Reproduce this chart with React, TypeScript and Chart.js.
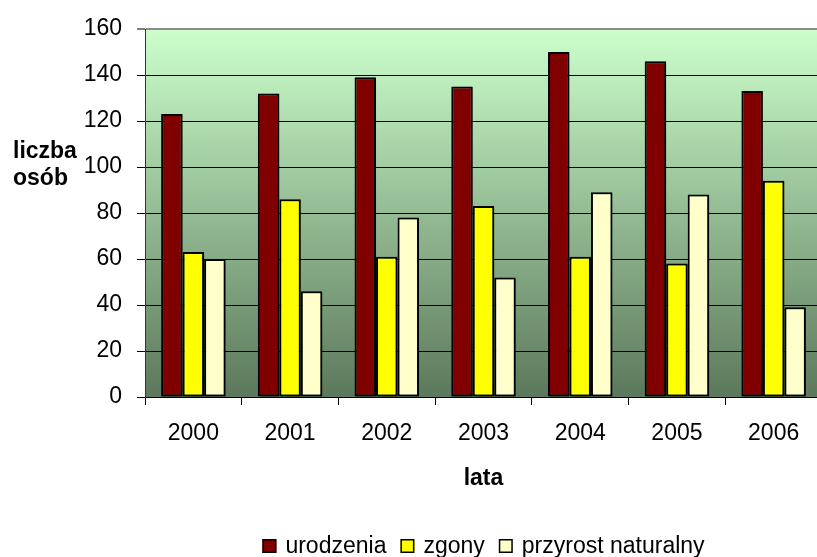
import { useEffect, useRef } from "react";
import { Chart, registerables } from "chart.js";

Chart.register(...registerables);

const categories = ["2000", "2001", "2002", "2003", "2004", "2005", "2006"];
const urodzenia = [123, 132, 139, 135, 150, 146, 133];
const zgony = [63, 86, 61, 83, 61, 58, 94];
const przyrost = [60, 46, 78, 52, 89, 88, 39];
const seriesNames = ["urodzenia", "zgony", "przyrost naturalny"];
const seriesColors = ["#800000", "#FFFF00", "#FFFFCC"];
const yMin = 0;
const yMax = 160;
const yStep = 20;
const yTitleLines = ["liczba", "osób"];
const xTitle = "lata";

const FONT = "'Liberation Sans', Arial, sans-serif";
const FS = 23;

const bgPlugin = {
  id: "plotBg",
  beforeDraw(chart: any) {
    const { ctx, chartArea } = chart;
    const { left, top, right, bottom } = chartArea;
    const g = ctx.createLinearGradient(0, top, 0, bottom);
    g.addColorStop(0, "#CCFFCC");
    g.addColorStop(1, "#5C785C");
    ctx.save();
    ctx.fillStyle = g;
    ctx.fillRect(left, top, right - left, bottom - top);
    ctx.restore();
  },
  afterDraw(chart: any) {
    const { ctx, chartArea } = chart;
    ctx.save();
    ctx.fillStyle = "#000";
    ctx.font = `bold ${FS}px ${FONT}`;
    ctx.textAlign = "left";
    ctx.textBaseline = "alphabetic";
    ctx.fillText(yTitleLines[0], 13, 158);
    ctx.fillText(yTitleLines[1], 13, 185);
    ctx.font = `${FS}px ${FONT}`;
    const box = 14;
    const gapText = 9;
    const gapItem = 14;
    const widths = seriesNames.map((n) => ctx.measureText(n).width);
    let total = 0;
    widths.forEach((w, i) => {
      total += box + gapText + w + (i < widths.length - 1 ? gapItem : 0);
    });
    const cx = (chartArea.left + chartArea.right) / 2;
    let x = cx - total / 2;
    const cy = 546;
    ctx.textBaseline = "middle";
    seriesNames.forEach((n, i) => {
      ctx.fillStyle = seriesColors[i];
      ctx.fillRect(x, cy - box / 2, box, box);
      ctx.strokeStyle = "#000";
      ctx.lineWidth = 1.5;
      ctx.strokeRect(x + 0.75, cy - box / 2 + 0.75, box - 1.5, box - 1.5);
      ctx.fillStyle = "#000";
      ctx.fillText(n, x + box + gapText, cy + 1);
      x += box + gapText + widths[i] + gapItem;
    });
    ctx.restore();
  },
  beforeDatasetsDraw(chart: any) {
    const { ctx } = chart;
    ctx.save();
    ctx.shadowColor = "rgba(0,0,0,0.35)";
    ctx.shadowOffsetX = 2;
    ctx.shadowOffsetY = 1;
    ctx.shadowBlur = 2;
  },
  afterDatasetsDraw(chart: any) {
    chart.ctx.restore();
  },
};

export default function App() {
  const ref = useRef<HTMLCanvasElement>(null);
  useEffect(() => {
    if (!ref.current) return;
    const data = [urodzenia, zgony, przyrost];
    const chart = new Chart(ref.current, {
      type: "bar",
      data: {
        labels: categories,
        datasets: data.map((d, i) => ({
          label: seriesNames[i],
          data: d,
          backgroundColor: seriesColors[i],
          borderColor: "#000",
          borderWidth: 2,
          borderSkipped: false,
          categoryPercentage: 2 / 3,
          barPercentage: 1,
        })),
      },
      options: {
        animation: false,
        responsive: false,
        maintainAspectRatio: false,
        layout: { padding: { top: 29, left: 0, right: 0, bottom: 0 } },
        plugins: {
          legend: { display: false },
          tooltip: { enabled: false },
        },
        scales: {
          x: {
            grid: {
              display: true,
              drawOnChartArea: false,
              drawTicks: true,
              tickLength: 8,
              color: "#000",
              offset: true,
            },
            border: { display: true, color: "#000", width: 1 },
            ticks: {
              color: "#000",
              font: { family: FONT, size: FS },
              padding: 15,
              maxRotation: 0,
            },
            title: {
              display: true,
              text: xTitle,
              color: "#000",
              font: { family: FONT, size: FS, weight: "bold" },
              padding: { top: 0, bottom: 65 },
            },
            afterFit: (s: any) => {
              s.height = 160;
            },
          },
          y: {
            min: yMin,
            max: yMax,
            grid: {
              color: (c: any) => (c.tick && c.tick.value === yMax ? "#8C8C8C" : "#000"),
              lineWidth: (c: any) => (c.tick && c.tick.value === yMax ? 2 : 1),
              tickColor: "#000",
              tickWidth: 1,
              drawTicks: true,
              tickLength: 8,
            },
            border: { display: true, color: "#333", width: 1 },
            ticks: {
              stepSize: yStep,
              color: "#000",
              font: { family: FONT, size: FS },
              padding: 15,
            },
            afterFit: (s: any) => {
              s.width = 145;
            },
          },
        },
      },
      plugins: [bgPlugin],
    } as any);
    return () => chart.destroy();
  }, []);
  return (
    <div
      style={{
        position: "fixed",
        left: 0,
        top: 0,
        width: 817,
        height: 557,
        overflow: "hidden",
        background: "#fff",
      }}
    >
      <canvas ref={ref} width={822} height={557} style={{ display: "block" }} />
    </div>
  );
}
